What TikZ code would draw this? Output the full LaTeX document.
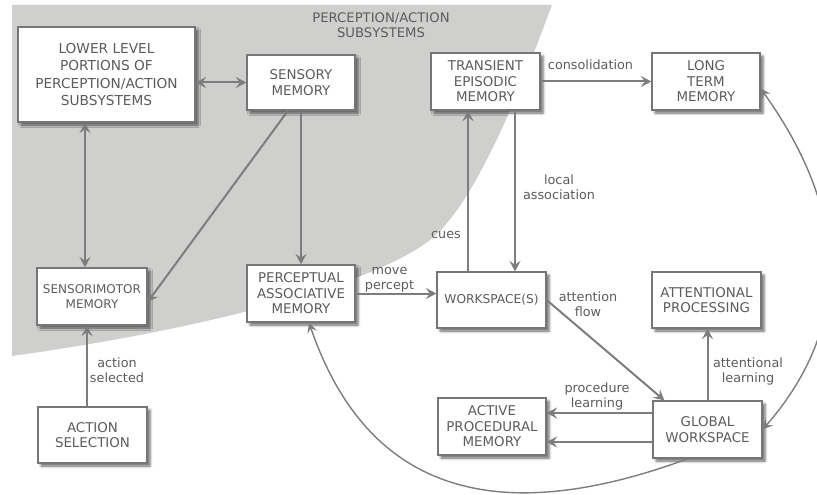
\documentclass[tikz,border=0pt]{standalone}
\usepackage{fontspec}
\setmainfont{DejaVu Sans}
\usetikzlibrary{arrows.meta,shadows.blur}
\definecolor{zone}{RGB}{207,208,206}
\definecolor{edge}{RGB}{118,118,118}
\definecolor{ink}{RGB}{92,92,92}
\definecolor{wire}{RGB}{125,125,125}

\tikzset{
  box/.style={draw=edge, line width=1.3pt, fill=white, inner sep=0pt, align=center,
    text=ink, font=\fontsize{13.4}{15.6}\selectfont,
    blur shadow={shadow xshift=3pt, shadow yshift=-3pt, shadow blur radius=2.5pt, shadow opacity=60}},
  tip/.tip={Stealth[length=10.5pt, width=11pt, inset=4pt]},
  thin tip/.tip={Stealth[length=10pt, width=10pt, inset=4pt]},
  flow/.style={draw=wire, line width=2pt, -tip},
  both/.style={draw=wire, line width=2pt, tip-tip},
  loop/.style={draw=wire, line width=1.4pt},
  lbl/.style={text=ink, align=center, font=\fontsize{12.8}{15}\selectfont, inner sep=0pt},
}

\begin{document}
\begin{tikzpicture}[x=1pt, y=-1pt]
\useasboundingbox (0,0) rectangle (817,495);

% perception/action subsystems zone
\fill[zone] (12,5) -- (552,5) .. controls (524,80) and (477,203) .. (430,240)
  .. controls (375,283) and (213,328) .. (12,356) -- cycle;
\node[lbl, font=\fontsize{13.2}{14.5}\selectfont] (zonetitle) at (381,25) {PERCEPTION/ACTION\\SUBSYSTEMS};

% modules
\node[box, minimum width=177pt, minimum height=95pt, font=\fontsize{13.7}{17.4}\selectfont] (low) at (106.5,74.5) {LOWER LEVEL\\PORTIONS OF\\PERCEPTION/ACTION\\SUBSYSTEMS};
\node[box, minimum width=108pt, minimum height=55pt] (sens) at (301,82.5) {SENSORY\\MEMORY};
\node[box, minimum width=109pt, minimum height=57pt] (tem) at (485.5,81.5) {TRANSIENT\\EPISODIC\\MEMORY};
\node[box, minimum width=108pt, minimum height=57pt] (ltm) at (706,81.5) {LONG\\TERM\\MEMORY};
\node[box, minimum width=110pt, minimum height=57pt, font=\fontsize{12}{15}\selectfont] (smm) at (92,296.5) {SENSORIMOTOR\\MEMORY};
\node[box, minimum width=108pt, minimum height=57pt] (pam) at (301,293.5) {PERCEPTUAL\\ASSOCIATIVE\\MEMORY};
\node[box, minimum width=109pt, minimum height=56pt] (asel) at (92.5,435) {ACTION\\SELECTION};
\node[box, minimum width=109pt, minimum height=56pt, font=\fontsize{12.2}{14}\selectfont] (ws) at (491.5,300) {WORKSPACE(S)};
\node[box, minimum width=109pt, minimum height=56pt] (attp) at (706.5,300) {ATTENTIONAL\\PROCESSING};
\node[box, minimum width=108pt, minimum height=57pt] (apm) at (492,426.5) {ACTIVE\\PROCEDURAL\\MEMORY};
\node[box, minimum width=109pt, minimum height=57pt] (gw) at (707.5,429.5) {GLOBAL\\WORKSPACE};

% connectors
\draw[both] (low.east |- sens.west) -- (sens.west);
\draw[both] ([xshift=-7pt]smm.north |- low.south) -- ([xshift=-7pt]smm.north);
\draw[flow] ([xshift=-13pt]sens.south) -- ([yshift=-5.5pt]smm.east);
\draw[flow] (sens.south) -- (pam.north);
\draw[flow] (tem.east) -- (ltm.west);
\draw[flow] ([xshift=29.5pt]tem.south) -- ([xshift=29.5pt]tem.south |- ws.north);
\draw[flow] ([xshift=-23.5pt]ws.north) -- ([xshift=-23.5pt]ws.north |- tem.south);
\draw[flow] (pam.east) -- (pam.east -| ws.west);
\draw[flow] (ws.east) -- ([xshift=12pt]gw.north west);
\draw[flow] (gw.north) -- (gw.north |- attp.south);
\draw[flow] ([yshift=16.5pt]gw.west) -- ([yshift=16.5pt]gw.west -| apm.east);
\draw[flow] ([yshift=-12.5pt]gw.west) -- ([yshift=-12.5pt]gw.west -| apm.east);
\draw[flow] ([xshift=-5.5pt]asel.north) -- ([xshift=-5.5pt]asel.north |- smm.south);
\draw[loop, -thin tip] ([xshift=-19.5pt]gw.south) .. controls (527,518) and (375,515) .. ([xshift=8pt]pam.south);
\draw[loop, thin tip-thin tip] ([yshift=-7pt]ltm.east) .. controls (844,205) and (858,320) .. (gw.east);

% connector labels
\node[lbl] (lconsol) at (590.5,65) {consolidation};
\node[lbl] (llocal) at (559,187.5) {local\\association};
\node[lbl] (lcues) at (446,235) {cues};
\node[lbl] (lmove) at (389.5,279.5) {move\\percept};
\node[lbl] (lattn) at (588,304.5) {attention\\flow};
\node[lbl] (lattl) at (748,371) {attentional\\learning};
\node[lbl] (lproc) at (597,396) {procedure\\learning};
\node[lbl] (lact) at (117,370.5) {action\\selected};
\end{tikzpicture}
\end{document}
